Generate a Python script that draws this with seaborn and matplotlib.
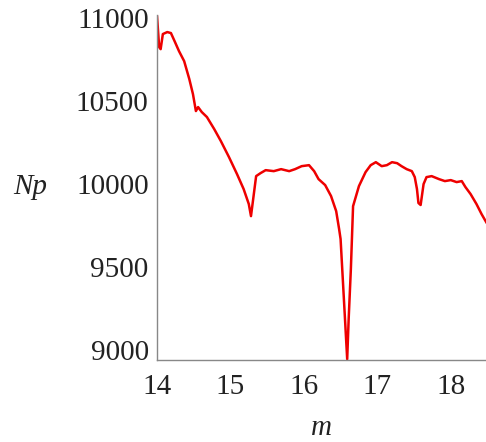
import matplotlib
matplotlib.use("Agg")
import matplotlib.pyplot as plt
import seaborn as sns
import pandas as pd

# values
m = [14.00, 14.03, 14.05, 14.08, 14.14, 14.19, 14.24, 14.30, 14.37, 14.44,
     14.49, 14.53, 14.56, 14.61, 14.68, 14.78, 14.87, 14.98, 15.09, 15.18,
     15.25, 15.28, 15.31, 15.35, 15.41, 15.48, 15.59, 15.69, 15.80, 15.88,
     15.97, 16.07, 16.14, 16.20, 16.29, 16.37, 16.44, 16.48, 16.50, 16.53,
     16.56, 16.59, 16.61, 16.64, 16.67, 16.75, 16.84, 16.91, 16.98, 17.06,
     17.13, 17.20, 17.27, 17.33, 17.40, 17.47, 17.51, 17.54, 17.56, 17.59,
     17.63, 17.67, 17.74, 17.84, 17.92, 18.00, 18.08, 18.15, 18.20, 18.27,
     18.35, 18.42, 18.49]
np_vals = [11015, 10825, 10813, 10904, 10916, 10910, 10861, 10801, 10741, 10633,
           10542, 10440, 10464, 10434, 10404, 10331, 10259, 10163, 10060, 9970,
           9880, 9807, 9910, 10048, 10066, 10084, 10078, 10090, 10078, 10090,
           10108, 10114, 10078, 10030, 9994, 9928, 9837, 9729, 9669, 9428,
           9187, 8945, 9187, 9488, 9867, 9988, 10072, 10114, 10132, 10108,
           10114, 10132, 10126, 10108, 10090, 10078, 10042, 9970, 9886, 9874,
           10000, 10042, 10048, 10030, 10018, 10024, 10012, 10018, 9982, 9940,
           9880, 9819, 9765]
x_ticks = [14, 15, 16, 17, 18]
y_ticks = [9000, 9500, 10000, 10500, 11000]

df = pd.DataFrame({"m": m, "Np": np_vals})

sns.set_style("white")
plt.rcParams["font.family"] = ["Liberation Serif", "DejaVu Serif"]

fig = plt.figure(figsize=(4.86, 4.42), dpi=100)
ax = fig.add_axes([0.323, 0.1855, 0.677, 0.781])

sns.lineplot(data=df, x="m", y="Np", sort=False, color="#ee0000",
             linewidth=1.8, ax=ax)

ax.set_xlim(14, 18.48)
ax.set_ylim(8940, 11020)
ax.set_xticks(x_ticks)
ax.set_yticks(y_ticks)
ax.tick_params(labelsize=21, direction="in", length=3, width=0.8,
               color="#888888", labelcolor="#222222")
ax.tick_params(axis="y", pad=6)
ax.tick_params(axis="x", pad=10)

for side in ["top", "right"]:
    ax.spines[side].set_visible(False)
for side in ["left", "bottom"]:
    ax.spines[side].set_color("#888888")
    ax.spines[side].set_linewidth(1.0)

ax.set_xlabel("m", fontsize=21, style="italic", color="#222222")
ax.xaxis.set_label_coords(0.5, -0.16)
ax.set_ylabel("Np", fontsize=21, style="italic", color="#222222",
              rotation=0, va="center", ha="center")
ax.yaxis.set_label_coords(-0.385, 0.5)

fig.savefig("out.png", dpi=100)
